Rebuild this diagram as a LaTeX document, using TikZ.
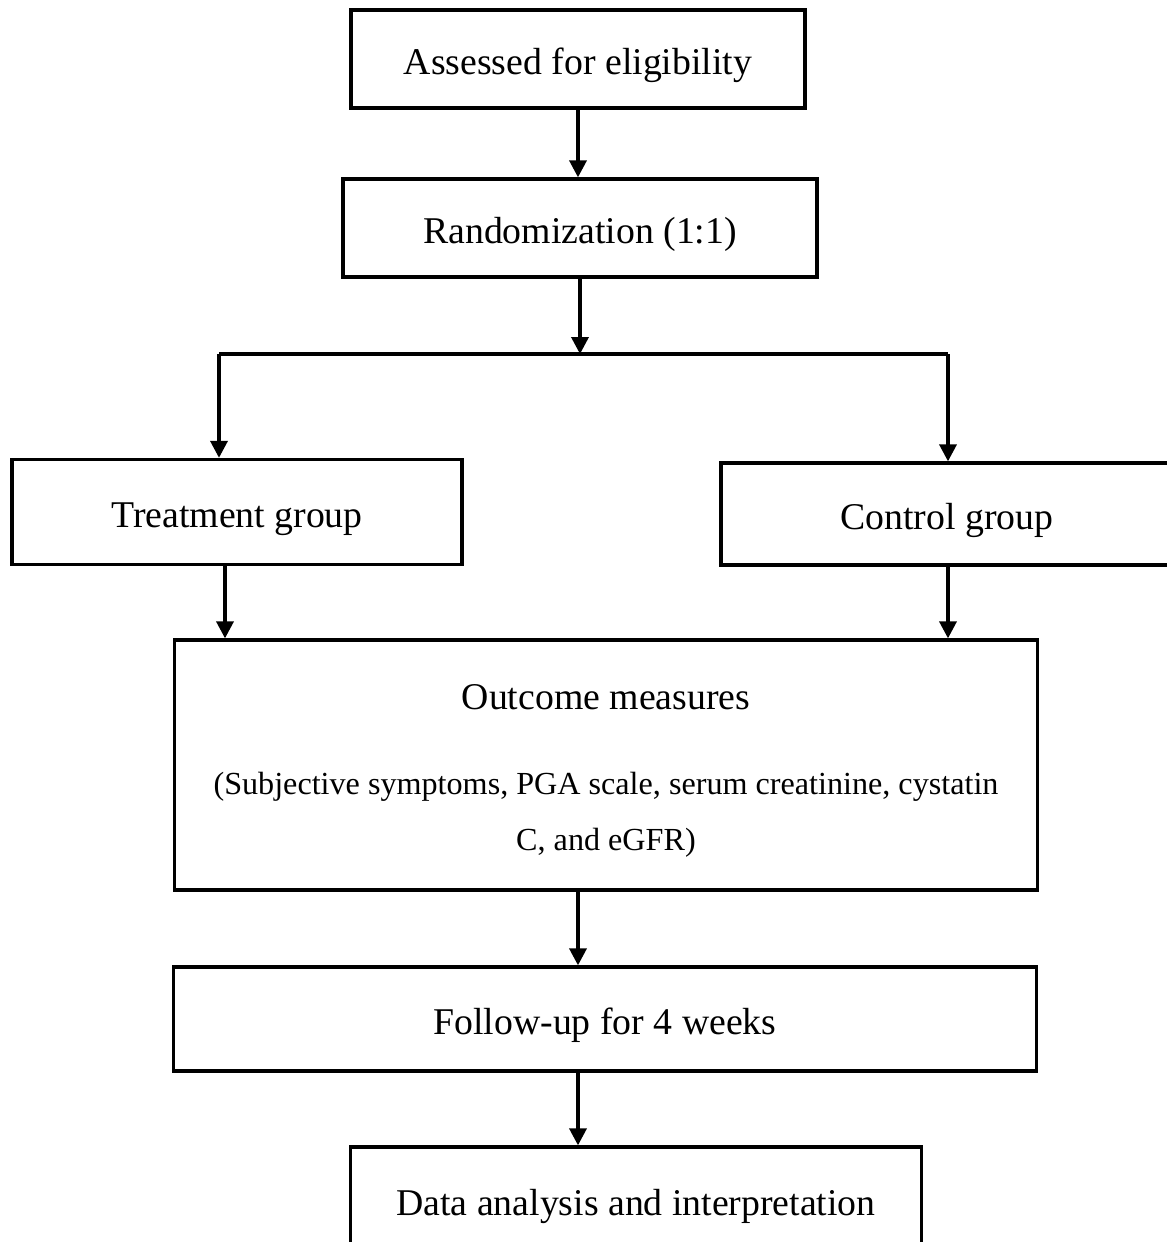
\documentclass[tikz,border=0pt]{standalone}
\usepackage{fontspec}
\setmainfont{Liberation Serif}
\usetikzlibrary{arrows.meta}
\tikzset{
  flowbox/.style={draw, line width=1.9pt, inner sep=0pt, align=center,
    font=\fontsize{21.5}{34}\selectfont},
  onetext/.style={text height=19.4pt, text depth=2.2pt},
  flowline/.style={line width=2pt},
  flowarrow/.style={flowline, -{Triangle[width=0.34cm, length=0.34cm]}}
}
\begin{document}
\begin{tikzpicture}[x=0.02cm, y=-0.02cm]
        \useasboundingbox (0,0) rectangle (1167,1242);
        \clip (0,0) rectangle (1167,1242);

        \node [flowbox, onetext, minimum width=9.08cm, minimum height=1.96cm] (assess) at (578,59) {Assessed for eligibility};
        \node [flowbox, onetext, minimum width=9.48cm, minimum height=1.96cm] (random) at (580,228) {Randomization (1:1)};

        \node [flowbox, onetext, minimum width=9.0cm, minimum height=2.1cm] (treat) at (237,512) {Treatment group};
        \node [flowbox, onetext, minimum width=9.04cm, minimum height=2.04cm] (control) at (947,514) {Control group};

        \node [flowbox, minimum width=17.26cm, minimum height=5.0cm, font=\fontsize{18.3}{32}\selectfont] (outcome) at (606,765)
          {{\fontsize{21.5}{34}\selectfont\rule{0pt}{21pt}Outcome measures}\\[16pt](Subjective symptoms, PGA scale, serum creatinine, cystatin\\C, and eGFR)};
        \node [flowbox, onetext, minimum width=17.26cm, minimum height=2.08cm] (follow) at (605,1019) {Follow-up for 4 weeks};
        \node [flowbox, onetext, minimum width=11.42cm, minimum height=2.12cm] (data) at (636,1200) {Data analysis and interpretation};

        \coordinate (split) at (580,354);
        \coordinate (splitL) at (219,354);
        \coordinate (splitR) at (948,354);
        \coordinate (treatx) at (225,565);
        \coordinate (mainx) at (578,0);

        \draw [flowarrow] (assess.south -| mainx) -- (random.north -| mainx);
        \draw [flowarrow] (random.south) -- (split);
        \draw [flowline] (splitL) -- (splitR);
        \draw [flowarrow] (splitL) -- (splitL |- treat.north);
        \draw [flowarrow] (splitR) -- (splitR |- control.north);

        \draw [flowarrow] (treatx) -- (treatx |- outcome.north);
        \draw [flowarrow] (splitR |- control.south) -- (splitR |- outcome.north);
        \draw [flowarrow] (outcome.south -| mainx) -- (follow.north -| mainx);
        \draw [flowarrow] (follow.south -| mainx) -- (data.north -| mainx);
      \end{tikzpicture}
\end{document}
